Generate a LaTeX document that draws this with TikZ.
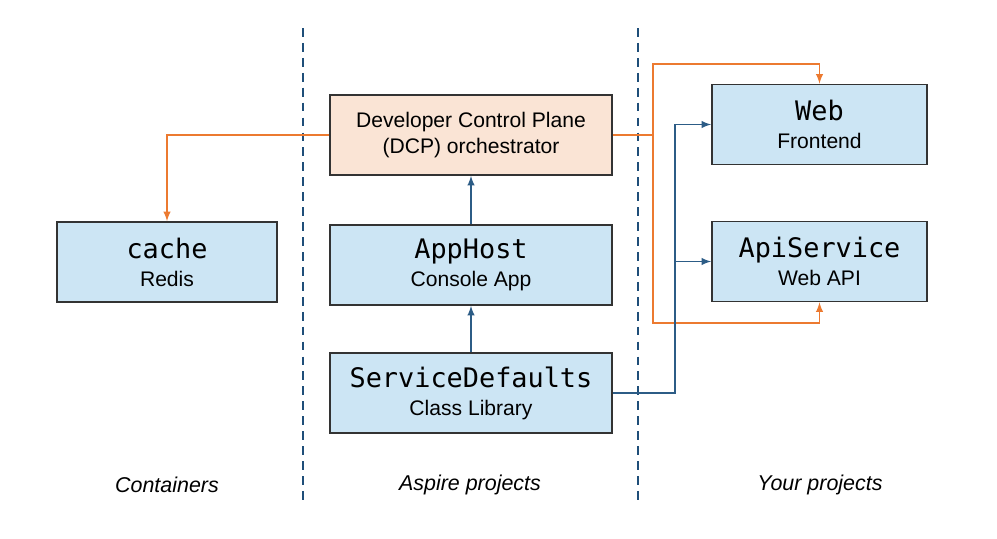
\documentclass[tikz,border=0pt]{standalone}
\usepackage{fontspec}
\setmainfont{Liberation Sans}
\newfontfamily\monofont{DejaVu Sans Mono}
\usetikzlibrary{positioning}
\definecolor{boxblue}{RGB}{204,229,244}
\definecolor{boxorange}{RGB}{250,228,213}
\definecolor{lineorange}{RGB}{236,122,48}
\definecolor{lineblue}{RGB}{44,92,134}
\definecolor{sepblue}{RGB}{31,78,121}
\begin{document}
\begin{tikzpicture}
  [x=0.02cm, y=-0.02cm,
  proj/.style={draw=black!80, line width=0.9pt, fill=boxblue,
    minimum height=1.6cm, align=center, inner sep=0pt},
  wide/.style={proj, minimum width=5.64cm},
  narrow/.style={proj, minimum width=4.3cm},
  orangeline/.style={lineorange, line width=0.9pt},
  blueline/.style={lineblue, line width=0.9pt},
  sep/.style={sepblue, line width=0.9pt, dash pattern=on 5pt off 3.5pt},
  caption/.style={font=\itshape\fontsize{12.2}{14}\selectfont}]
  \def \subsize {\fontsize{12}{14}\selectfont}
  \def \titlesize {\fontsize{15.3}{17}\monofont}
  \useasboundingbox (0,0) rectangle (997,538);

  % separators between the three groups
  \foreach \x in {303,638}
  {
    \draw[sep] (\x,28) -- (\x,500);
  }

  \node[wide, fill=boxorange, font=\subsize] (dcp) at (471,135)
    {Developer Control Plane\\[1pt](DCP) orchestrator};
  \node[wide] (apphost) at (471,265)
    {{\titlesize AppHost}\\[4pt]{\subsize Console App}};
  \node[wide] (defaults) at (471,393)
    {{\titlesize ServiceDefaults}\\[4pt]{\subsize Class Library}};
  \node[proj, minimum width=4.4cm] (cache) at (167,262)
    {{\titlesize cache}\\[4pt]{\subsize Redis}};
  \node[narrow] (web) at (819.5,124.5)
    {{\titlesize Web}\\[4pt]{\subsize Frontend}};
  \node[narrow] (api) at (819.5,261.5)
    {{\titlesize ApiService}\\[4pt]{\subsize Web API}};

  \node[caption] (containers) at (167,485) {Containers};
  \node[caption] (aspire) at (470,485) {Aspire projects};
  \node[caption] (yours) at (820,485) {Your projects};

  % orchestrator launches everything
  \coordinate (osplit) at (653,135);
  \coordinate (otop) at (653,64);
  \coordinate (obot) at (653,323);
  \draw[orangeline, ->, >=latex] (dcp.west) -| (cache.north);
  \draw[orangeline, ->, >=latex] (dcp.east) -- (osplit) -- (otop) -| (web.north);
  \draw[orangeline, ->, >=latex] (osplit) -- (obot) -| (api.south);

  % project references
  \coordinate (bsplit) at (675,393);
  \draw[blueline, ->, >=latex] (defaults) -- (apphost);
  \draw[blueline, ->, >=latex] (apphost) -- (dcp);
  \draw[blueline, ->, >=latex] (defaults.east) -- (bsplit) |- (web.west);
  \draw[blueline, ->, >=latex] (bsplit) |- (api.west);
\end{tikzpicture}
\end{document}
